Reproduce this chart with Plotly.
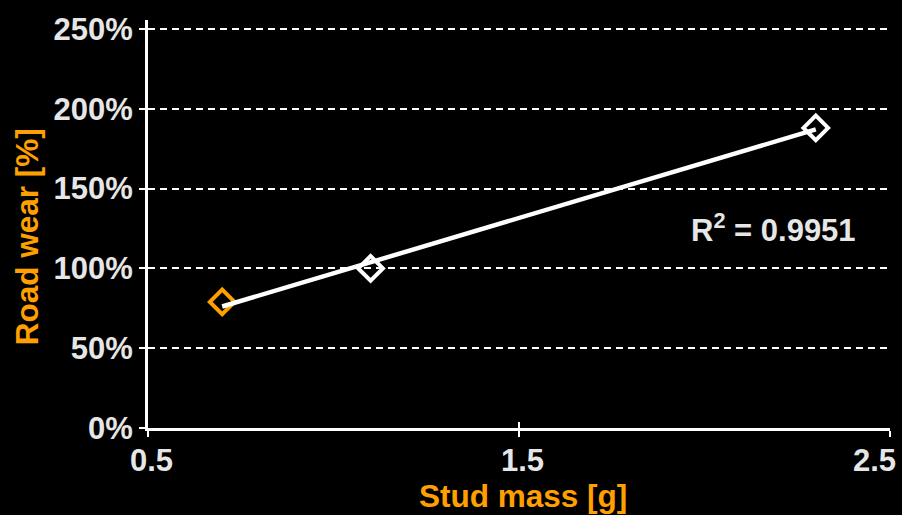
import numpy as np
import plotly.graph_objects as go

# Data
stud_mass = [0.7, 1.1, 2.3]          # g
road_wear = [79, 100, 188]           # %
highlight = [True, False, False]     # first point drawn in orange
r2_label = "0.9951"

x_ticks = [0.5, 1.5, 2.5]
y_ticks = [0, 50, 100, 150, 200, 250]

ORANGE = "#FFA000"
WHITE = "#FFFFFF"
LABEL = "#E6E6E6"
FONT = "Liberation Sans, Arial, sans-serif"

# Linear trendline from the data
slope, intercept = np.polyfit(stud_mass, road_wear, 1)
tx = [min(stud_mass), max(stud_mass)]
ty = [slope * v + intercept for v in tx]

fig = go.Figure()

ox = [x for x, h in zip(stud_mass, highlight) if h]
oy = [y for y, h in zip(road_wear, highlight) if h]
wx = [x for x, h in zip(stud_mass, highlight) if not h]
wy = [y for y, h in zip(road_wear, highlight) if not h]

fig.add_trace(go.Scatter(x=ox, y=oy, mode="markers",
                         marker=dict(symbol="diamond-open", size=19, color=ORANGE,
                                     line=dict(width=4, color=ORANGE)),
                         showlegend=False, hoverinfo="skip"))
fig.add_trace(go.Scatter(x=tx, y=ty, mode="lines",
                         line=dict(color=WHITE, width=4.5),
                         showlegend=False, hoverinfo="skip"))
fig.add_trace(go.Scatter(x=wx, y=wy, mode="markers",
                         marker=dict(symbol="diamond-open", size=19, color=WHITE,
                                     line=dict(width=4, color=WHITE)),
                         showlegend=False, hoverinfo="skip"))
# invisible trace for the overlay axes (inner half of the crossing ticks)
fig.add_trace(go.Scatter(x=[None], y=[None], xaxis="x2", yaxis="y2",
                         showlegend=False, hoverinfo="skip"))

XR = [0.5, 2.5]
YR = [0, 255.6]
PL, PR, PT, PB = 148, 12, 15, 87
PW = 902 - PL - PR
PH = 515 - PT - PB

tick_font = dict(size=31, color=LABEL, weight="bold", family=FONT)

annotations = []
for i, v in enumerate(x_ticks):
    last = i == len(x_ticks) - 1
    annotations.append(dict(
        text=f"{v:g}", xref="x", yref="paper",
        x=v, y=-(461 - 428) / PH,
        xanchor="right" if last else "center", yanchor="middle",
        xshift=8 if last else 3,
        showarrow=False, font=tick_font))

annotations += [
    dict(text="Stud mass [g]", xref="paper", yref="paper",
         x=(522.5 - PL) / PW, y=-(497 - 428) / PH,
         xanchor="center", yanchor="middle", showarrow=False,
         font=dict(size=31.5, color=ORANGE, weight="bold", family=FONT)),
    dict(text="Road wear [%]", xref="paper", yref="paper",
         x=-(PL - 27) / PW, y=(428 - 234) / PH, textangle=-90,
         xanchor="center", yanchor="middle", showarrow=False,
         font=dict(size=31.5, color=ORANGE, weight="bold", family=FONT)),
    dict(text=f"R<sup>2</sup> = {r2_label}", xref="x", yref="y",
         x=2.185, y=125.5, xanchor="center", yanchor="middle", showarrow=False,
         font=dict(size=31, color=LABEL, weight="bold", family=FONT)),
]

fig.update_layout(
    width=902, height=515,
    margin=dict(l=PL, r=PR, t=PT, b=PB),
    paper_bgcolor="black", plot_bgcolor="black",
    font=dict(family=FONT, color=LABEL),
    xaxis=dict(range=XR, tickvals=x_ticks,
               showline=True, linecolor=WHITE, linewidth=3,
               ticks="outside", ticklen=6, tickwidth=2, tickcolor=WHITE,
               showticklabels=False,
               showgrid=False, zeroline=False),
    yaxis=dict(range=YR, tickvals=y_ticks, ticktext=[f"{v}%" for v in y_ticks],
               showline=True, linecolor=WHITE, linewidth=3,
               ticks="outside", ticklen=6, tickwidth=2, tickcolor=WHITE,
               showgrid=True, gridcolor=WHITE, gridwidth=1.5, griddash="7px,5px",
               zeroline=False, tickfont=tick_font),
    xaxis2=dict(range=XR, overlaying="x", anchor="y2", tickvals=x_ticks,
                ticks="inside", ticklen=6, tickwidth=2, tickcolor=WHITE,
                showticklabels=False, showgrid=False, showline=False, zeroline=False),
    yaxis2=dict(range=YR, overlaying="y", anchor="x2", tickvals=y_ticks,
                ticks="inside", ticklen=6, tickwidth=2, tickcolor=WHITE,
                showticklabels=False, showgrid=False, showline=False, zeroline=False),
    annotations=annotations,
)

fig.write_html("out.html",
               config={"displayModeBar": False},
               post_script="document.body.style.margin='0';document.body.style.background='black';")
